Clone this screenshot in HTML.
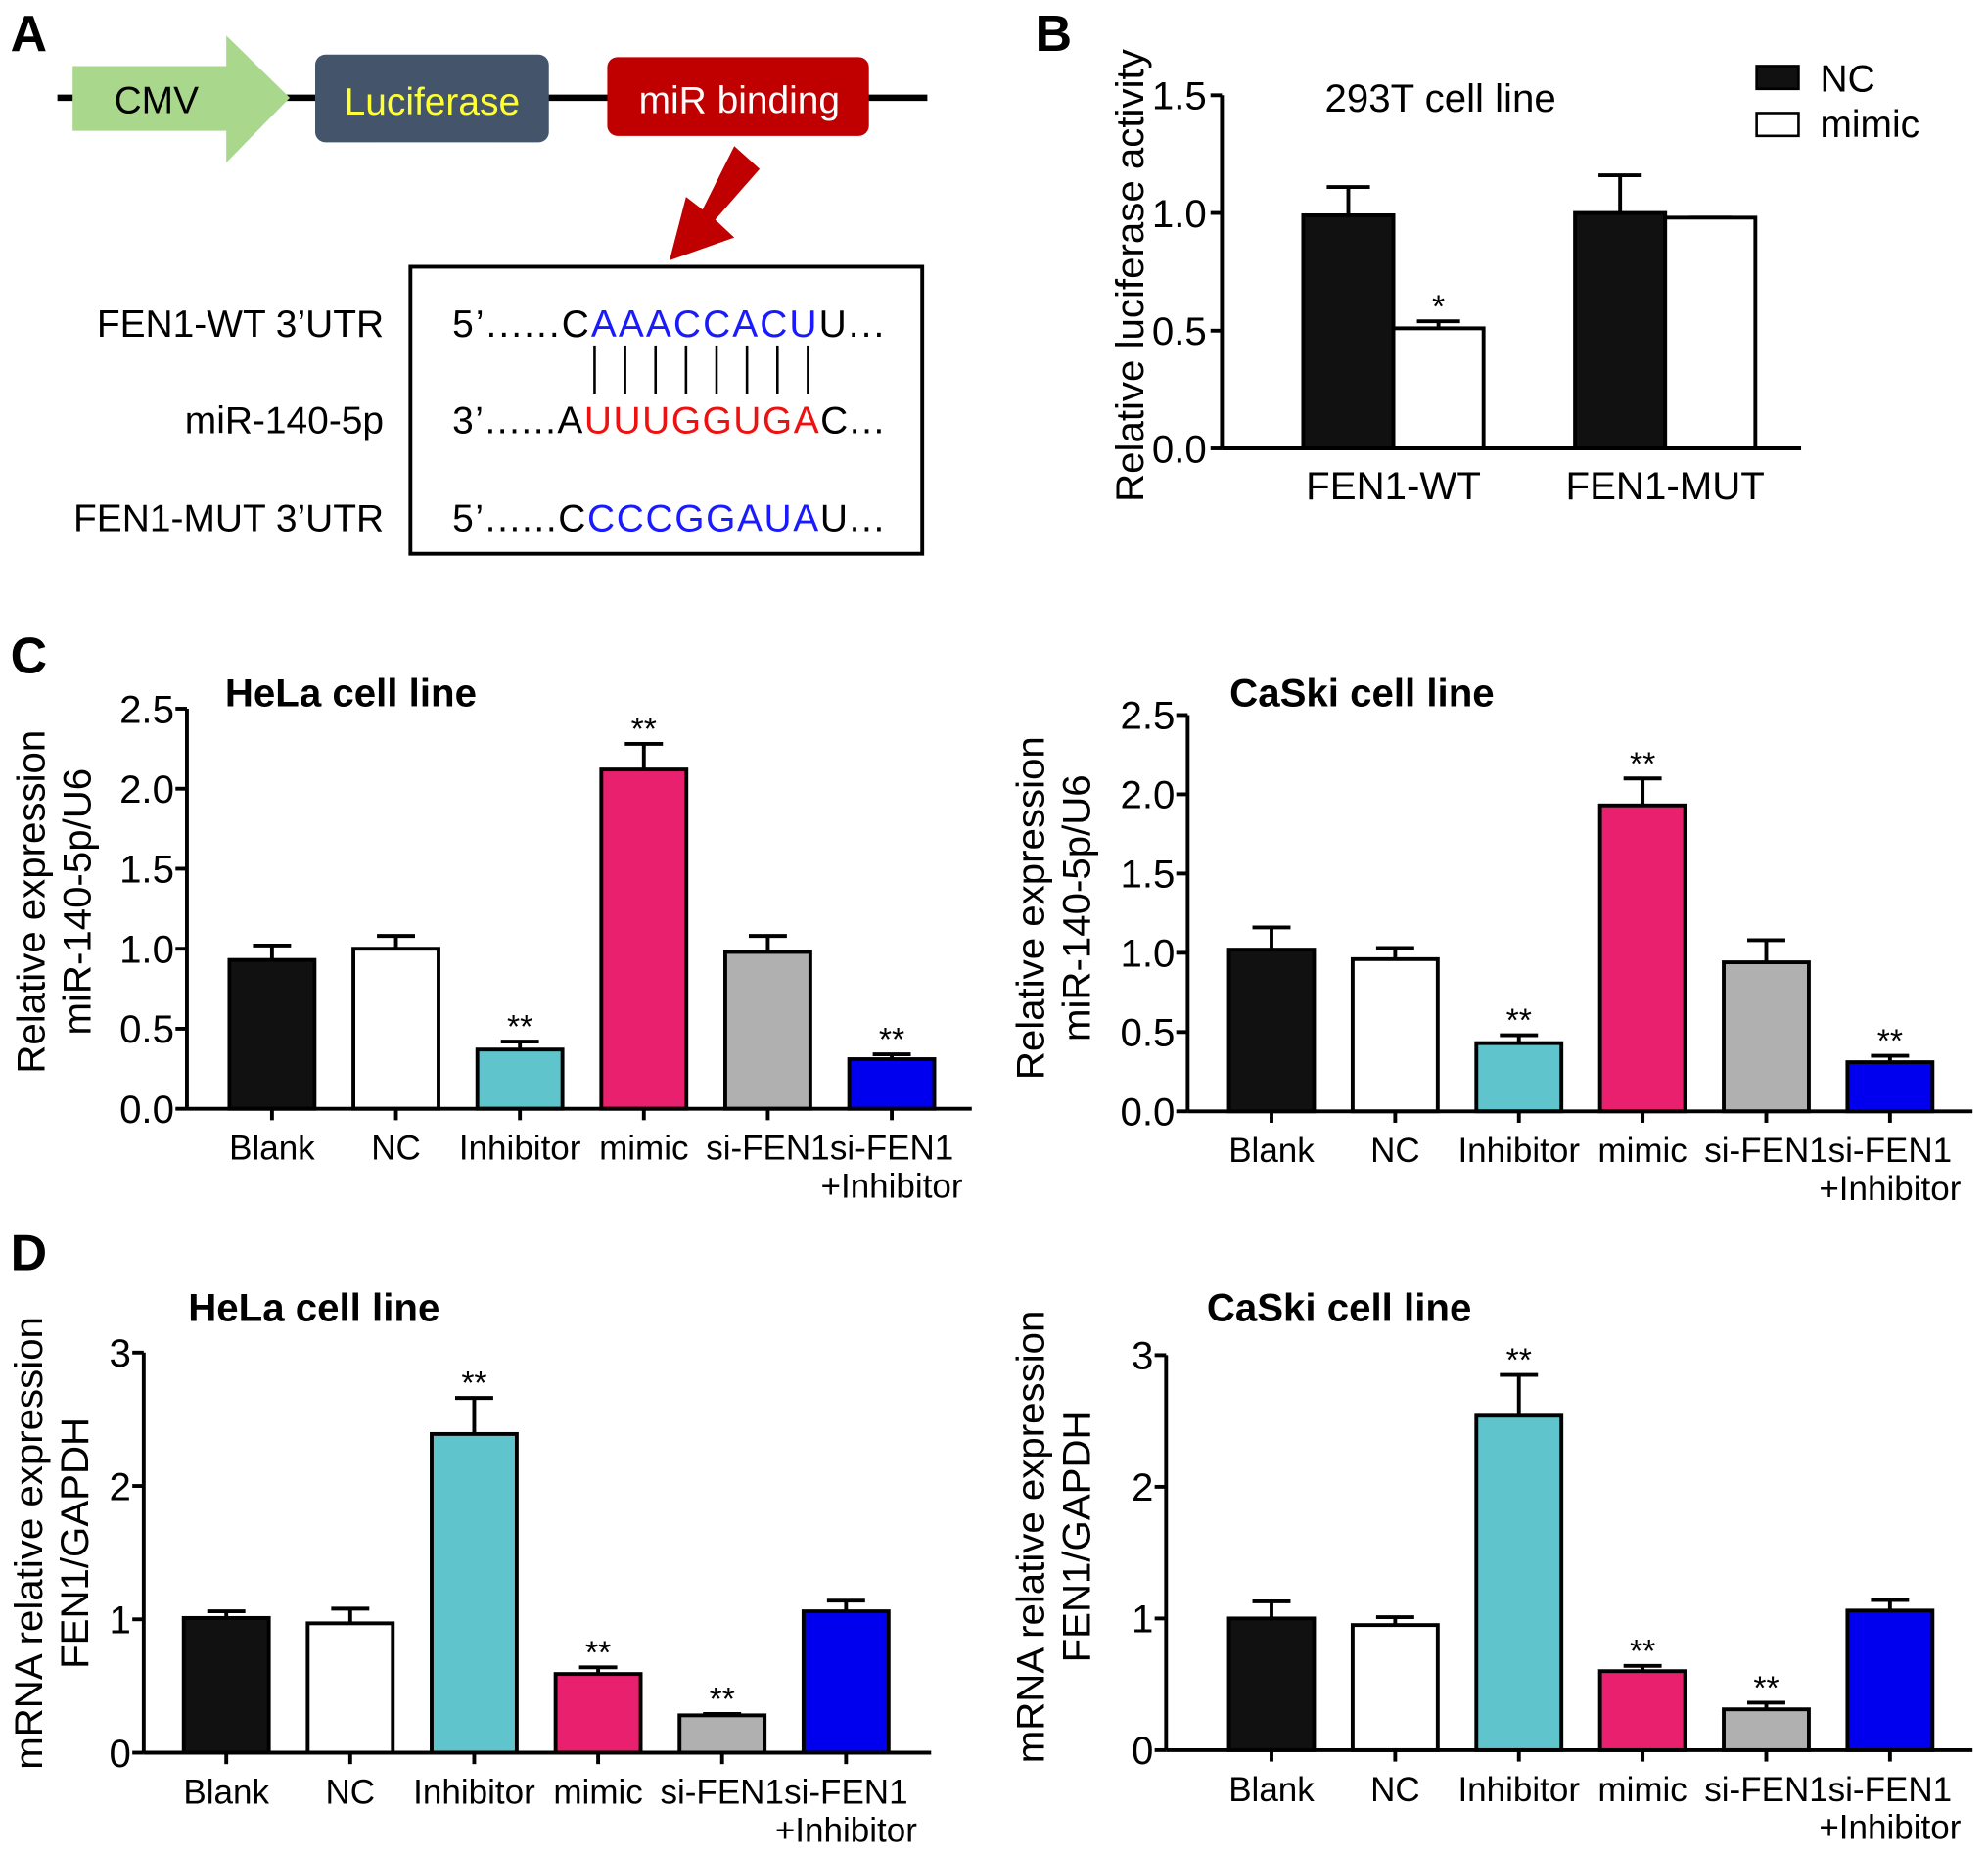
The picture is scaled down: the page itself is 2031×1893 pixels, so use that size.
<!DOCTYPE html>
<html><head><meta charset="utf-8"><style>
html,body{margin:0;padding:0;background:#fff;}
svg{display:block;font-family:"Liberation Sans",Arial,sans-serif;}
</style></head><body>
<svg id="fig" width="2031" height="1893" viewBox="0 0 1565 1459" xmlns="http://www.w3.org/2000/svg">
<g>
<text x="8" y="40" font-size="40" font-weight="bold">A</text>
<line x1="45" y1="77" x2="730" y2="77" stroke="#000" stroke-width="5"/>
<polygon points="57,52 178,52 178,28 228,77 178,128 178,103 57,103" fill="#a9d88c"/>
<text x="123" y="89" font-size="30" text-anchor="middle">CMV</text>
<rect x="248" y="43" width="184" height="69" rx="8" fill="#44546a"/>
<text x="340" y="90" font-size="30" text-anchor="middle" fill="#ffff33">Luciferase</text>
<rect x="478" y="45" width="206" height="62" rx="8" fill="#c00000"/>
<text x="582" y="89" font-size="30" text-anchor="middle" fill="#fff">miR binding</text>
<polygon points="578,115 598,133 563,173 578,187 527,205 540,155 553,165" fill="#c00000"/>
<rect x="323" y="210" width="403" height="226" fill="#fff" stroke="#000" stroke-width="3"/>
<g font-size="30" text-anchor="end">
<text x="302" y="265">FEN1-WT 3’UTR</text>
<text x="302" y="341">miR-140-5p</text>
<text x="302" y="418">FEN1-MUT 3’UTR</text>
</g>
<g font-size="30">
<text x="356" y="265" textLength="340">5’......C<tspan fill="#1a1aff">AAACCACU</tspan>U...</text>
<text x="356" y="341" textLength="340">3’......A<tspan fill="#ee1111">UUUGGUGA</tspan>C...</text>
<text x="356" y="418" textLength="340">5’......C<tspan fill="#1a1aff">CCCGGAUA</tspan>U...</text>
</g>
<g stroke="#000" stroke-width="2">
<line x1="468" y1="272" x2="468" y2="310"/><line x1="492" y1="272" x2="492" y2="310"/><line x1="516" y1="272" x2="516" y2="310"/><line x1="540" y1="272" x2="540" y2="310"/><line x1="564" y1="272" x2="564" y2="310"/><line x1="588" y1="272" x2="588" y2="310"/><line x1="612" y1="272" x2="612" y2="310"/><line x1="636" y1="272" x2="636" y2="310"/>
</g>
</g>
<text x="815" y="40" font-size="40" font-weight="bold">B</text>
<text x="8" y="530" font-size="40" font-weight="bold">C</text>
<text x="8" y="1000" font-size="40" font-weight="bold">D</text>
<g id="charts"></g>
</svg>
<script>
const bGroups = ["FEN1-WT", "FEN1-MUT"];
const bNC = [0.99, 1.0];
const bNCerr = [1.11, 1.16];
const bMimic = [0.51, 0.98];
const bMimicErr = [0.54, 0.98];
const bTicks = [0, 0.5, 1.0, 1.5];
const bStars = ["", "*", "", ""];

const cats = ["Blank", "NC", "Inhibitor", "mimic", "si-FEN1", "si-FEN1|+Inhibitor"];
const barColors = ["#111111", "#ffffff", "#5fc4cc", "#e8206e", "#b0b0b0", "#0000ee"];
const cHelaVals = [0.93, 1.0, 0.37, 2.12, 0.98, 0.31];
const cHelaErr = [1.02, 1.08, 0.42, 2.28, 1.08, 0.34];
const cHelaStars = ["", "", "**", "**", "", "**"];
const cCaskiVals = [1.02, 0.96, 0.43, 1.93, 0.94, 0.31];
const cCaskiErr = [1.16, 1.03, 0.48, 2.10, 1.08, 0.35];
const cCaskiStars = ["", "", "**", "**", "", "**"];
const cTicks = [0, 0.5, 1.0, 1.5, 2.0, 2.5];
const dHelaVals = [1.01, 0.97, 2.39, 0.59, 0.28, 1.06];
const dHelaErr = [1.06, 1.08, 2.66, 0.64, 0.29, 1.14];
const dHelaStars = ["", "", "**", "**", "**", ""];
const dCaskiVals = [1.0, 0.95, 2.54, 0.60, 0.31, 1.06];
const dCaskiErr = [1.13, 1.01, 2.85, 0.64, 0.36, 1.14];
const dCaskiStars = ["", "", "**", "**", "**", ""];
const dTicks = [0, 1, 2, 3];

const NS = "http://www.w3.org/2000/svg";
const root = document.getElementById("charts");
function mk(tag, attrs, parent, text) {
  const e = document.createElementNS(NS, tag);
  for (const k in attrs) e.setAttribute(k, attrs[k]);
  if (text !== undefined) e.textContent = text;
  (parent || root).appendChild(e);
  return e;
}

function chart(cfg) {
  const g = mk("g", {});
  
  
  const maxT = cfg.ticks[cfg.ticks.length - 1];
  const y = v => cfg.y0 - (v / maxT) * (cfg.y0 - cfg.yTop);
  const step = (cfg.lastC - cfg.firstC) / (cfg.vals.length - 1);
  const xc = i => cfg.firstC + i * step;
  const ya = mk("line", {x1: cfg.ax, y1: cfg.y0, x2: cfg.ax, y2: cfg.yTop, stroke: "#000", "stroke-width": 3}, g);
  
  
  cfg.ticks.forEach(t => {
    mk("line", {x1: cfg.ax - 9, y1: y(t), x2: cfg.ax, y2: y(t), stroke: "#000", "stroke-width": 3}, g);
    const tl = mk("text", {x: cfg.ax - 10, y: y(t) + 11, "font-size": 31, "text-anchor": "end"}, g, cfg.fmt(t));
    
    
  });
  cfg.vals.forEach((v, i) => {
    const cx = xc(i);
    const ee = cfg.err[i];
    mk("line", {x1: cx, y1: y(v), x2: cx, y2: y(ee), stroke: "#000", "stroke-width": 3}, g);
    mk("line", {x1: cx - 15, y1: y(ee), x2: cx + 15, y2: y(ee), stroke: "#000", "stroke-width": 3}, g);
    const r = mk("rect", {x: cx - cfg.bw / 2, y: y(v), width: cfg.bw, height: y(0) - y(v), fill: cfg.colors[i], stroke: "#000", "stroke-width": 3}, g);
    
    
    if (cfg.stars[i]) {
      const s = mk("text", {x: cx, y: y(ee) - 3, "font-size": 26, "text-anchor": "middle"}, g, cfg.stars[i]);
      
      
    }
    mk("line", {x1: cx, y1: cfg.y0, x2: cx, y2: cfg.y0 + 9, stroke: "#000", "stroke-width": 3}, g);
    cfg.cats[i].split("|").forEach((ln, k) => {
      const t = mk("text", {x: cx, y: cfg.y0 + 40 + k * 30, "font-size": 27, "text-anchor": "middle"}, g, ln);
      
      
    });
  });
  const xa = mk("line", {x1: cfg.ax, y1: cfg.y0, x2: cfg.xEnd, y2: cfg.y0, stroke: "#000", "stroke-width": 3}, g);
  
  
  const tt = mk("text", {x: cfg.titleX, y: cfg.titleY, "font-size": 31, "font-weight": "bold"}, g, cfg.title);
  
  
  cfg.ylab.forEach((ln, k) => {
    const yl = mk("text", {x: 0, y: 0, "font-size": 31, "text-anchor": "middle", transform: `translate(${cfg.ylabX + k * 36},${cfg.ylabY}) rotate(-90)`}, g, ln);
    
    
  });
}

const f1 = t => t.toFixed(1), f0 = t => String(t);
chart({name: "chart-c-hela", vals: cHelaVals, err: cHelaErr, stars: cHelaStars, cats: cats, colors: barColors, ticks: cTicks, fmt: f1,
  ax: 147, y0: 873, yTop: 558, firstC: 214, lastC: 702, bw: 67, xEnd: 765, title: "HeLa cell line", titleX: 177, titleY: 556,
  ylab: ["Relative expression", "miR-140-5p/U6"], ylabX: 35, ylabY: 710});
chart({name: "chart-c-caski", vals: cCaskiVals, err: cCaskiErr, stars: cCaskiStars, cats: cats, colors: barColors, ticks: cTicks, fmt: f1,
  ax: 935, y0: 875, yTop: 563, firstC: 1001, lastC: 1488, bw: 67, xEnd: 1553, title: "CaSki cell line", titleX: 968, titleY: 556,
  ylab: ["Relative expression", "miR-140-5p/U6"], ylabX: 822, ylabY: 715});
chart({name: "chart-d-hela", vals: dHelaVals, err: dHelaErr, stars: dHelaStars, cats: cats, colors: barColors, ticks: dTicks, fmt: f0,
  ax: 113, y0: 1380, yTop: 1065, firstC: 178, lastC: 666, bw: 67, xEnd: 733, title: "HeLa cell line", titleX: 148, titleY: 1040,
  ylab: ["mRNA relative expression", "FEN1/GAPDH"], ylabX: 33, ylabY: 1215});
chart({name: "chart-d-caski", vals: dCaskiVals, err: dCaskiErr, stars: dCaskiStars, cats: cats, colors: barColors, ticks: dTicks, fmt: f0,
  ax: 918, y0: 1378, yTop: 1067, firstC: 1001, lastC: 1488, bw: 67, xEnd: 1553, title: "CaSki cell line", titleX: 950, titleY: 1040,
  ylab: ["mRNA relative expression", "FEN1/GAPDH"], ylabX: 822, ylabY: 1210});

(function () {
  const g = mk("g", {});
  
  
  const ax = 962, y0 = 353, yTop = 75, maxT = 1.5;
  const y = v => y0 - (v / maxT) * (y0 - yTop);
  const centers = [1097, 1311], bw = 71;
  mk("line", {x1: ax, y1: y0, x2: ax, y2: yTop, stroke: "#000", "stroke-width": 3}, g);
  bTicks.forEach(t => {
    mk("line", {x1: ax - 9, y1: y(t), x2: ax, y2: y(t), stroke: "#000", "stroke-width": 3}, g);
    const tl = mk("text", {x: ax - 12, y: y(t) + 11, "font-size": 31, "text-anchor": "end"}, g, t.toFixed(1));
    
    
  });
  bGroups.forEach((gr, i) => {
    const pairs = [[bNC[i], bNCerr[i], "#111", centers[i] - bw / 2, bStars[i * 2]], [bMimic[i], bMimicErr[i], "#fff", centers[i] + bw / 2, bStars[i * 2 + 1]]];
    pairs.forEach(([v, e, c, cx, st], j) => {
      mk("line", {x1: cx, y1: y(v), x2: cx, y2: y(e), stroke: "#000", "stroke-width": 3}, g);
      mk("line", {x1: cx - 17, y1: y(e), x2: cx + 17, y2: y(e), stroke: "#000", "stroke-width": 3}, g);
      const r = mk("rect", {x: cx - bw / 2, y: y(v), width: bw, height: y(0) - y(v), fill: c, stroke: "#000", "stroke-width": 3}, g);
      
      
      if (st) {
        const s = mk("text", {x: cx, y: y(e) - 3, "font-size": 26, "text-anchor": "middle"}, g, st);
        
        
      }
    });
    const xl = mk("text", {x: centers[i], y: y0 + 40, "font-size": 31, "text-anchor": "middle"}, g, gr);
    
    
  });
  mk("line", {x1: ax, y1: y0, x2: 1418, y2: y0, stroke: "#000", "stroke-width": 3}, g);
  const t = mk("text", {x: 1043, y: 88, "font-size": 31}, g, "293T cell line");
  
  
  const yl = mk("text", {x: 0, y: 0, "font-size": 31, "text-anchor": "middle", transform: "translate(900,217) rotate(-90)"}, g, "Relative luciferase activity");
  
  
  const l1 = mk("rect", {x: 1383, y: 52, width: 33, height: 18, fill: "#111", stroke: "#000", "stroke-width": 2}, g);
  
  
  const l2 = mk("rect", {x: 1383, y: 89, width: 33, height: 18, fill: "#fff", stroke: "#000", "stroke-width": 2}, g);
  
  
  const lt1 = mk("text", {x: 1433, y: 72, "font-size": 30}, g, "NC");
  
  
  const lt2 = mk("text", {x: 1433, y: 108, "font-size": 30}, g, "mimic");
  
  
})();
</script>
</body></html>
